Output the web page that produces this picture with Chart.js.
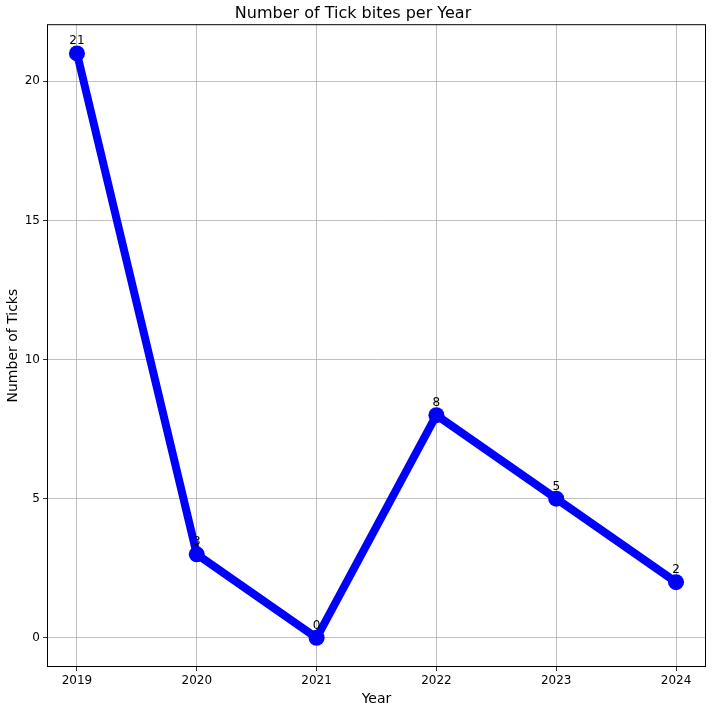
<!DOCTYPE html>
<html>
<head>
<meta charset="utf-8">
<script src="https://cdn.jsdelivr.net/npm/chart.js@4"></script>
<style>
  html, body { margin: 0; padding: 0; background: #fff; }
  #wrap { width: 712px; height: 712px; }
</style>
</head>
<body>
<div id="wrap"><canvas id="myChart"></canvas></div>
<script>
const years = [2019, 2020, 2021, 2022, 2023, 2024];
const tickBites = [21, 3, 0, 8, 5, 2];
const yTicks = [0, 5, 10, 15, 20];

const fontFamily = '"DejaVu Sans", sans-serif';

// frame + value labels
const framePlugin = {
    id: 'frame',
    afterDatasetsDraw(chart) {
        const c = chart.ctx;
        const a = chart.chartArea;
        c.save();
        c.strokeStyle = '#000';
        c.lineWidth = 1;
        c.strokeRect(a.left + 0.5, a.top + 0.5, a.right - a.left - 1, a.bottom - a.top - 1);
        const meta = chart.getDatasetMeta(0);
        c.fillStyle = '#000';
        c.font = '12px ' + fontFamily;
        c.textAlign = 'center';
        c.textBaseline = 'alphabetic';
        meta.data.forEach((pt, i) => {
            c.fillText(String(tickBites[i]), pt.x, pt.y - 9);
        });
        c.restore();
    }
};

new Chart(document.getElementById('myChart'), {
    type: 'line',
    data: {
        datasets: [{
            data: years.map((y, i) => ({x: y, y: tickBites[i]})),
            borderColor: '#0000ff',
            backgroundColor: '#0000ff',
            borderWidth: 8,
            pointRadius: 8,
            pointHoverRadius: 8,
            pointBorderWidth: 0,
            tension: 0
        }]
    },
    options: {
        responsive: true,
        maintainAspectRatio: false,
        animation: false,
        layout: { autoPadding: false, padding: { right: 6, left: 0, bottom: 0, top: 0 } },
        plugins: {
            legend: { display: false },
            tooltip: { enabled: false },
            title: {
                display: true,
                text: 'Number of Tick bites per Year',
                color: '#000',
                font: { family: fontFamily, size: 16, weight: 'normal' },
                padding: { top: 4, bottom: 1 }
            }
        },
        scales: {
            x: {
                type: 'linear',
                min: 2018.75,
                max: 2024.25,
                afterBuildTicks: scale => { scale.ticks = years.map(v => ({value: v})); },
                afterFit: scale => { scale.height = 45; },
                ticks: {
                    color: '#000',
                    font: { family: fontFamily, size: 12 },
                    padding: 3,
                    maxRotation: 0,
                    callback: v => String(v)
                },
                grid: { color: '#b0b0b0', lineWidth: 0.8, tickColor: '#000', tickLength: 4 },
                border: { display: false },
                title: {
                    display: true,
                    text: 'Year',
                    color: '#000',
                    font: { family: fontFamily, size: 14 },
                    padding: { top: 2, bottom: 4 }
                }
            },
            y: {
                min: -1.05,
                max: 22.05,
                afterBuildTicks: scale => { scale.ticks = yTicks.map(v => ({value: v})); },
                afterFit: scale => { scale.width = 47; },
                ticks: {
                    color: '#000',
                    font: { family: fontFamily, size: 12 },
                    padding: 3
                },
                grid: { color: '#b0b0b0', lineWidth: 0.8, tickColor: '#000', tickLength: 4 },
                border: { display: false },
                title: {
                    display: true,
                    text: 'Number of Ticks',
                    color: '#000',
                    font: { family: fontFamily, size: 14 },
                    padding: { top: 5, bottom: 2 }
                }
            }
        }
    },
    plugins: [framePlugin]
});
</script>
</body>
</html>
